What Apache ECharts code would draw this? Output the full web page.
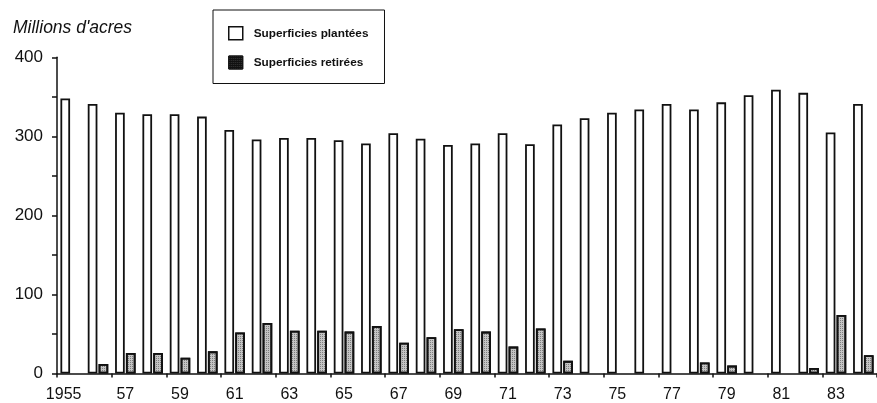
<!DOCTYPE html>
<html>
<head>
<meta charset="utf-8">
<script src="https://cdn.jsdelivr.net/npm/echarts@6/dist/echarts.min.js"></script>
<style>html,body{margin:0;padding:0;background:#fff}#c{width:877px;height:403px}</style>
</head>
<body>
<div id="c"></div>
<script>
const years = ['1955','56','57','58','59','60','61','62','63','64','65','66','67','68','69','70','71','72','73','74','75','76','77','78','79','80','81','82','83','84'];
const planted = [348,341,330,328,328,325,308,296,298,298,295,291,304,297,289,291,304,290,315,323,330,334,341,334,343,352,359,355,305,341];
const retired = [0,12,26,26,20,28,52,64,54,54,53,60,39,46,56,53,34,57,16,0,0,0,0,14,10,0,0,7,74,23];
const yTicks = [0,100,200,300,400];
const seriesNames = ['Superficies plantées','Superficies retirées'];

const chart = echarts.init(document.getElementById('c'), null, {renderer:'canvas'});
const catData = years.map((y,i) => i === 0 ? {value:y, textStyle:{padding:[0,14,0,0]}} : y);
const retiredData = retired.map(v => v === 0 ? {value:v, itemStyle:{borderWidth:0, opacity:0}} : v);
chart.setOption({
  animation:false,
  backgroundColor:'#fff',
  title:{text:"Millions d'acres", left:8, top:14, textStyle:{fontFamily:'Liberation Sans', fontStyle:'italic', fontWeight:'normal', fontSize:17.5, color:'#111'}},
  legend:{
    orient:'vertical', left:213, top:10,
    borderColor:'#111', borderWidth:1, padding:[16,16,14,15],
    itemWidth:14, itemHeight:13, itemGap:15,
    textStyle:{fontFamily:'Liberation Sans', fontSize:11.8, fontWeight:'bold', color:'#111', padding:[0,0,0,6]},
    data:[
      {name:seriesNames[0], icon:'rect', itemStyle:{color:'#fff', borderColor:'#111', borderWidth:1.5}},
      {name:seriesNames[1], icon:'rect', itemStyle:{color:'#111', borderColor:'#111', borderWidth:1}}
    ]
  },
  grid:{left:57, right:-3, top:57.3, bottom:29.5},
  xAxis:{
    type:'category', data:catData, boundaryGap:true,
    axisLine:{lineStyle:{color:'#111', width:1.5}},
    axisTick:{show:true, length:4, lineStyle:{color:'#111', width:1.5}},
    axisLabel:{interval:1, margin:13, fontFamily:'Liberation Sans', fontSize:16, color:'#111'}
  },
  yAxis:{
    type:'value', min:yTicks[0], max:yTicks[yTicks.length-1], interval:100,
    splitLine:{show:false},
    axisLine:{show:true, lineStyle:{color:'#111', width:1.5}},
    axisTick:{show:true, length:5, lineStyle:{color:'#111', width:1.5}},
    minorTick:{show:true, splitNumber:2, length:5, lineStyle:{color:'#111', width:1.5}},
    axisLabel:{margin:14, fontFamily:'Liberation Sans', fontSize:17, color:'#111'}
  },
  series:[
    {name:seriesNames[0], type:'bar', data:planted, barCategoryGap:'25%', barGap:'12%',
     itemStyle:{color:'#fff', borderColor:'#111', borderWidth:1.8}},
    {name:seriesNames[1], type:'bar', data:retiredData,
     itemStyle:{color:'#c4c4c4', borderColor:'#111', borderWidth:1.8,
       decal:{symbol:'rect', symbolSize:1, color:'rgba(80,80,80,0.6)', dashArrayX:[1,1], dashArrayY:[1,1], rotation:0}}}
  ]
});
</script>
</body>
</html>
